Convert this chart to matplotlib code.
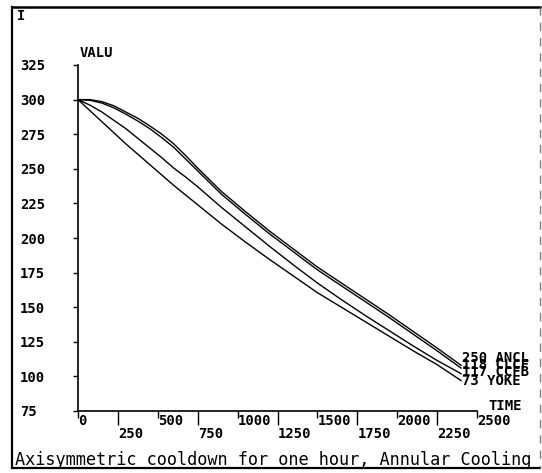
#!/usr/bin/env python3
import matplotlib

matplotlib.use("Agg")
import matplotlib.pyplot as plt
from matplotlib.lines import Line2D

# Cooldown temperatures
time_s = [0, 75, 150, 225, 300, 375, 450, 525, 600, 675, 750, 825, 900,
          1050, 1200, 1350, 1500, 1650, 1800, 1950, 2100, 2250, 2400]
ancl = [300, 300, 298.5, 295.5, 291, 286.5, 281, 275, 268, 259.5, 250.5,
        242, 233.5, 219, 205, 192, 179, 167.5, 156, 144.5, 132.5, 120.5,
        108]
clcf = [300, 299.5, 297.5, 294, 289.5, 284.5, 279, 272.5, 265.5, 257,
        248.5, 240, 231.5, 217, 203, 190, 177, 165.5, 154, 142.5, 130.5,
        118.5, 106]
ccfb = [300, 296, 291, 285, 279, 272, 265, 258, 250.5, 244, 237, 229.5,
        222, 208, 194, 180.5, 167.5, 155.5, 144, 133, 122, 111.5, 102]
yoke = [300, 292, 284, 276, 268, 260.5, 253, 245.5, 238, 231, 224, 217,
        210, 197, 184.5, 172.5, 160.5, 150, 139.5, 129, 118.5, 108.5, 97]
series_names = ["250 ANCL", "118 CLCF", "117 CCFB", "73 YOKE"]

x_major = [0, 500, 1000, 1500, 2000, 2500]
x_minor = [250, 750, 1250, 1750, 2250]
y_ticks = [75, 100, 125, 150, 175, 200, 225, 250, 275, 300, 325]
caption = "Axisymmetric cooldown for one hour, Annular Cooling"

MONO = "DejaVu Sans Mono"
W, H = 542, 473


def fx(px):
    return px / W


def fy(py):
    return 1 - py / H


def main():
    fig = plt.figure(figsize=(W / 100, H / 100), dpi=100)
    ax = fig.add_axes([fx(78), fy(411), 399 / W, 346 / H])
    ax.patch.set_visible(False)
    ax.set_xlim(0, 2500)
    ax.set_ylim(75, 325)
    for side in ("top", "right"):
        ax.spines[side].set_visible(False)
    for side in ("left", "bottom"):
        ax.spines[side].set_linewidth(1.2)

    series = [ancl, clcf, ccfb, yoke]
    offsets = [5.3, 2.2, 1.2, 0]
    for vals, name, dy in zip(series, series_names, offsets):
        ax.plot(time_s, vals, color="black", lw=1.0)
        ax.annotate(name, xy=(time_s[-1], vals[-1]), xytext=(1, dy),
                    textcoords="offset points", ha="left", va="center",
                    family=MONO, fontweight="bold", fontsize=10,
                    annotation_clip=False)

    # y axis: ticks out to the left, labels left-aligned near the frame
    ax.set_yticks(y_ticks, labels=[str(v) for v in y_ticks])
    ax.tick_params(axis="y", length=3.5, width=1, pad=38.2)
    for lbl in ax.get_yticklabels():
        lbl.set_ha("left")
        lbl.set_family(MONO)
        lbl.set_fontweight("bold")
        lbl.set_fontsize(10)

    # x axis: staggered labels in two rows
    ax.set_xticks(x_major, labels=[str(v) for v in x_major])
    ax.set_xticks(x_minor, labels=[str(v) for v in x_minor], minor=True)
    ax.tick_params(axis="x", which="major", length=5, width=1, pad=-2.9)
    ax.tick_params(axis="x", which="minor", length=10, width=1, pad=1.4)
    for lbl in ax.get_xticklabels(which="both"):
        lbl.set_ha("left")
        lbl.set_family(MONO)
        lbl.set_fontweight("bold")
        lbl.set_fontsize(10)

    txt = dict(family=MONO, fontweight="bold", fontsize=10, va="center")
    fig.text(fx(80), fy(53), "VALU", ha="left", **txt)
    fig.text(fx(488), fy(406), "TIME", ha="left", **txt)
    fig.text(fx(17), fy(16), "I", ha="left", **txt)
    fig.text(fx(15), fy(460), caption, ha="left", va="center",
             family=MONO, fontsize=12.2)

    # outer plotter frame
    frame = [((12, 7), (12, 468), "-", 1.6, "black"),
             ((12, 7), (540, 7), "-", 1.8, "black"),
             ((12, 468), (540, 468), "-", 1.6, "black"),
             ((540, 7), (540, 468), (0, (6, 5)), 1.0, "0.5")]
    for (x0, y0), (x1, y1), ls, lw, col in frame:
        fig.add_artist(Line2D([fx(x0), fx(x1)], [fy(y0), fy(y1)],
                              transform=fig.transFigure, color=col,
                              lw=lw, ls=ls))

    fig.savefig("out.png", dpi=100)


if __name__ == "__main__":
    main()
